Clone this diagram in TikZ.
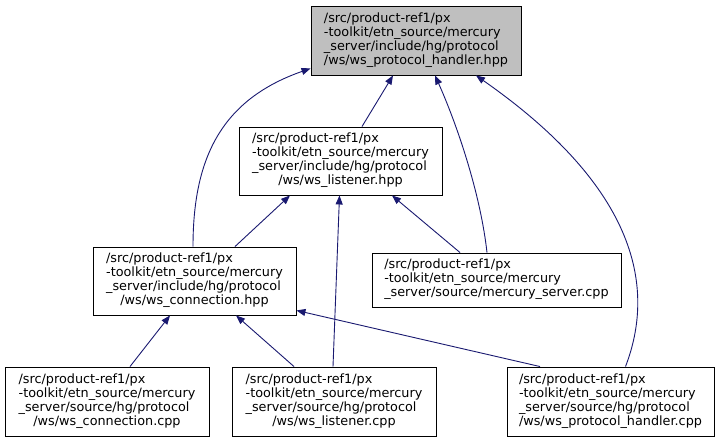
\documentclass[tikz,border=0pt]{standalone}
\usepackage{fontspec}
\setmainfont{DejaVu Sans}
\usepackage{xcolor}
\usepackage{tikz}
\usetikzlibrary{arrows.meta, positioning}

\definecolor{edgeblue}{HTML}{191970}
\newcommand{\fpath}[1]{\begin{tabular}{@{}l@{}}#1\end{tabular}}
\newcommand{\lastrow}[1]{\multicolumn{1}{@{}c@{}}{#1}}

\begin{document}
\begin{tikzpicture}[
    x=1pt, y=-1pt,
    file/.style={
        rectangle,
        draw=black,
        line width=0.9pt,
        fill=white,
        inner sep=0pt,
        font=\fontsize{12.8}{14}\selectfont,
        minimum width=204pt,
        minimum height=69pt
    },
    arrow/.style={
        ->,
        >={Triangle[length=9pt,width=7pt]},
        line width=0.9pt,
        color=edgeblue
    }
]
\useasboundingbox (0,0) rectangle (720,443);

\node[file, fill=black!25, minimum width=210pt] (handlerhpp) at (416,40.5)
    {\fpath{/src/product-ref1/px\\-toolkit/etn\_source/mercury\\\_server/include/hg/protocol\\\lastrow{/ws/ws\_protocol\_handler.hpp}}};
\node[file, minimum width=203pt, minimum height=68pt] (listenerhpp) at (340.5,161)
    {\fpath{/src/product-ref1/px\\-toolkit/etn\_source/mercury\\\_server/include/hg/protocol\\\lastrow{/ws/ws\_listener.hpp}}};
\node[file, minimum width=203pt, minimum height=68pt] (connectionhpp) at (194.5,281)
    {\fpath{/src/product-ref1/px\\-toolkit/etn\_source/mercury\\\_server/include/hg/protocol\\\lastrow{/ws/ws\_connection.hpp}}};
\node[file, minimum width=249pt, minimum height=54pt] (servercpp) at (496.5,280)
    {\fpath{/src/product-ref1/px\\-toolkit/etn\_source/mercury\\\_server/source/mercury\_server.cpp}};
\node[file] (connectioncpp) at (107,401.5)
    {\fpath{/src/product-ref1/px\\-toolkit/etn\_source/mercury\\\_server/source/hg/protocol\\\lastrow{/ws/ws\_connection.cpp}}};
\node[file] (listenercpp) at (334,401.5)
    {\fpath{/src/product-ref1/px\\-toolkit/etn\_source/mercury\\\_server/source/hg/protocol\\\lastrow{/ws/ws\_listener.cpp}}};
\node[file, minimum width=207pt] (handlercpp) at (610.5,401.5)
    {\fpath{/src/product-ref1/px\\-toolkit/etn\_source/mercury\\\_server/source/hg/protocol\\\lastrow{/ws/ws\_protocol\_handler.cpp}}};

\draw[arrow] ([xshift=21.5pt]listenerhpp.north) -- ([xshift=-23pt]handlerhpp.south);
\draw[arrow] ([xshift=-1.5pt]connectionhpp.north) .. controls (193,160) and (220,100) .. ([yshift=7pt]handlerhpp.south west);
\draw[arrow] ([xshift=-9.5pt]servercpp.north) .. controls (480,190) and (455,120) .. ([xshift=19pt]handlerhpp.south);
\draw[arrow] ([xshift=15pt]handlercpp.north) .. controls (655,290) and (640,190) .. ([xshift=60pt]handlerhpp.south);
\draw[arrow] ([xshift=40.5pt]connectionhpp.north) -- ([xshift=-50.5pt]listenerhpp.south);
\draw[arrow] ([xshift=-1pt]listenercpp.north) -- ([xshift=-1pt]listenerhpp.south);
\draw[arrow] ([xshift=-36.5pt]servercpp.north) -- ([xshift=51.5pt]listenerhpp.south);
\draw[arrow] ([xshift=23pt]connectioncpp.north) -- ([xshift=-24.5pt]connectionhpp.south);
\draw[arrow] ([xshift=-40pt]listenercpp.north) -- ([xshift=41.5pt]connectionhpp.south);
\draw[arrow] ([xshift=-70.5pt]handlercpp.north) -- ([yshift=5pt]connectionhpp.south east);

\end{tikzpicture}
\end{document}
